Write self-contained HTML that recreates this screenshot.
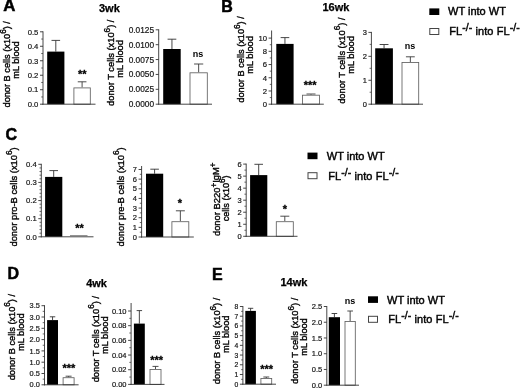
<!DOCTYPE html>
<html><head><meta charset="utf-8"><title>figure</title>
<style>html,body{margin:0;padding:0;background:#fff;}body{width:520px;height:388px;overflow:hidden;font-family:"Liberation Sans", sans-serif;}svg{display:block;will-change:transform;}</style>
</head><body>
<svg width="520" height="388" viewBox="0 0 520 388" font-family='"Liberation Sans", sans-serif' shape-rendering="auto">
<rect width="520" height="388" fill="#fff"/>
<text x="3.30" y="10.90" font-size="16.8" text-anchor="start" font-weight="bold" fill="#000" stroke="#000" stroke-width="0.5">A</text>
<text x="221.20" y="12.10" font-size="16" text-anchor="start" font-weight="bold" fill="#000" stroke="#000" stroke-width="0.5">B</text>
<text x="5.60" y="140.00" font-size="16" text-anchor="start" font-weight="bold" fill="#000" stroke="#000" stroke-width="0.5">C</text>
<text x="7.40" y="278.70" font-size="16" text-anchor="start" font-weight="bold" fill="#000" stroke="#000" stroke-width="0.5">D</text>
<text x="212.00" y="279.80" font-size="16" text-anchor="start" font-weight="bold" fill="#000" stroke="#000" stroke-width="0.5">E</text>
<text x="99.00" y="12.10" font-size="11" text-anchor="start" font-weight="bold" fill="#000" stroke="#000" stroke-width="0.25">3wk</text>
<text x="322.50" y="11.20" font-size="11" text-anchor="start" font-weight="bold" fill="#000" stroke="#000" stroke-width="0.25">16wk</text>
<text x="86.20" y="286.80" font-size="11" text-anchor="start" font-weight="bold" fill="#000" stroke="#000" stroke-width="0.25">4wk</text>
<text x="280.50" y="285.50" font-size="11" text-anchor="start" font-weight="bold" fill="#000" stroke="#000" stroke-width="0.25">14wk</text>
<line x1="55.80" y1="51.60" x2="55.80" y2="40.40" stroke="#333" stroke-width="0.9"/>
<line x1="51.50" y1="40.40" x2="60.10" y2="40.40" stroke="#333" stroke-width="0.9"/>
<rect x="47.20" y="51.60" width="17.20" height="52.60" fill="#000"/>
<line x1="82.10" y1="87.40" x2="82.10" y2="81.80" stroke="#3a3a3a" stroke-width="0.9"/>
<line x1="77.75" y1="81.80" x2="86.45" y2="81.80" stroke="#3a3a3a" stroke-width="0.9"/>
<rect x="73.90" y="87.90" width="16.40" height="16.30" fill="#fff" stroke="#606060" stroke-width="0.85"/>
<line x1="43.00" y1="31.30" x2="43.00" y2="104.70" stroke="#333" stroke-width="0.9"/>
<line x1="42.50" y1="104.20" x2="95.50" y2="104.20" stroke="#333" stroke-width="0.9"/>
<line x1="40.00" y1="104.20" x2="43.00" y2="104.20" stroke="#333" stroke-width="0.9"/>
<text x="38.40" y="106.97" font-size="7.7" text-anchor="end" font-weight="normal" fill="#111" stroke="#222" stroke-width="0.2">0.0</text>
<line x1="41.20" y1="96.96" x2="43.00" y2="96.96" stroke="#333" stroke-width="0.7200000000000001"/>
<line x1="40.00" y1="89.72" x2="43.00" y2="89.72" stroke="#333" stroke-width="0.9"/>
<text x="38.40" y="92.49" font-size="7.7" text-anchor="end" font-weight="normal" fill="#111" stroke="#222" stroke-width="0.2">0.1</text>
<line x1="41.20" y1="82.48" x2="43.00" y2="82.48" stroke="#333" stroke-width="0.7200000000000001"/>
<line x1="40.00" y1="75.24" x2="43.00" y2="75.24" stroke="#333" stroke-width="0.9"/>
<text x="38.40" y="78.01" font-size="7.7" text-anchor="end" font-weight="normal" fill="#111" stroke="#222" stroke-width="0.2">0.2</text>
<line x1="41.20" y1="68.00" x2="43.00" y2="68.00" stroke="#333" stroke-width="0.7200000000000001"/>
<line x1="40.00" y1="60.76" x2="43.00" y2="60.76" stroke="#333" stroke-width="0.9"/>
<text x="38.40" y="63.53" font-size="7.7" text-anchor="end" font-weight="normal" fill="#111" stroke="#222" stroke-width="0.2">0.3</text>
<line x1="41.20" y1="53.52" x2="43.00" y2="53.52" stroke="#333" stroke-width="0.7200000000000001"/>
<line x1="40.00" y1="46.28" x2="43.00" y2="46.28" stroke="#333" stroke-width="0.9"/>
<text x="38.40" y="49.05" font-size="7.7" text-anchor="end" font-weight="normal" fill="#111" stroke="#222" stroke-width="0.2">0.4</text>
<line x1="41.20" y1="39.04" x2="43.00" y2="39.04" stroke="#333" stroke-width="0.7200000000000001"/>
<line x1="40.00" y1="31.80" x2="43.00" y2="31.80" stroke="#333" stroke-width="0.9"/>
<text x="38.40" y="34.57" font-size="7.7" text-anchor="end" font-weight="normal" fill="#111" stroke="#222" stroke-width="0.2">0.5</text>
<text x="82.20" y="78.20" font-size="11" text-anchor="middle" font-weight="bold" fill="#000" stroke="#000" stroke-width="0.3">**</text>
<text transform="translate(10.25,64.30) rotate(-90) scale(1,1.05)" font-size="9.22" text-anchor="middle" font-weight="normal" fill="#000" stroke="#000" stroke-width="0.35">donor B cells (x10<tspan font-size="88%" dy="-4.2">6</tspan><tspan dy="4.2">) /</tspan></text>
<text transform="translate(19.15,60.00) rotate(-90) scale(1,1.05)" font-size="9.20" text-anchor="middle" font-weight="normal" fill="#000" stroke="#000" stroke-width="0.35">mL blood</text>
<line x1="171.95" y1="49.00" x2="171.95" y2="39.20" stroke="#333" stroke-width="0.9"/>
<line x1="167.57" y1="39.20" x2="176.32" y2="39.20" stroke="#333" stroke-width="0.9"/>
<rect x="163.20" y="49.00" width="17.50" height="55.20" fill="#000"/>
<line x1="198.65" y1="72.30" x2="198.65" y2="64.00" stroke="#3a3a3a" stroke-width="0.9"/>
<line x1="194.07" y1="64.00" x2="203.23" y2="64.00" stroke="#3a3a3a" stroke-width="0.9"/>
<rect x="190.00" y="72.80" width="17.30" height="31.40" fill="#fff" stroke="#606060" stroke-width="0.85"/>
<line x1="158.70" y1="29.30" x2="158.70" y2="104.70" stroke="#333" stroke-width="0.9"/>
<line x1="158.20" y1="104.20" x2="212.00" y2="104.20" stroke="#333" stroke-width="0.9"/>
<line x1="155.70" y1="104.20" x2="158.70" y2="104.20" stroke="#333" stroke-width="0.9"/>
<text x="154.10" y="107.19" font-size="8.3" text-anchor="end" font-weight="normal" fill="#111" stroke="#222" stroke-width="0.2">0.0000</text>
<line x1="155.70" y1="89.32" x2="158.70" y2="89.32" stroke="#333" stroke-width="0.9"/>
<text x="154.10" y="92.31" font-size="8.3" text-anchor="end" font-weight="normal" fill="#111" stroke="#222" stroke-width="0.2">0.0025</text>
<line x1="155.70" y1="74.44" x2="158.70" y2="74.44" stroke="#333" stroke-width="0.9"/>
<text x="154.10" y="77.43" font-size="8.3" text-anchor="end" font-weight="normal" fill="#111" stroke="#222" stroke-width="0.2">0.0050</text>
<line x1="155.70" y1="59.56" x2="158.70" y2="59.56" stroke="#333" stroke-width="0.9"/>
<text x="154.10" y="62.55" font-size="8.3" text-anchor="end" font-weight="normal" fill="#111" stroke="#222" stroke-width="0.2">0.0075</text>
<line x1="155.70" y1="44.68" x2="158.70" y2="44.68" stroke="#333" stroke-width="0.9"/>
<text x="154.10" y="47.67" font-size="8.3" text-anchor="end" font-weight="normal" fill="#111" stroke="#222" stroke-width="0.2">0.0100</text>
<line x1="155.70" y1="29.80" x2="158.70" y2="29.80" stroke="#333" stroke-width="0.9"/>
<text x="154.10" y="32.79" font-size="8.3" text-anchor="end" font-weight="normal" fill="#111" stroke="#222" stroke-width="0.2">0.0125</text>
<text x="197.90" y="56.90" font-size="9.0" text-anchor="middle" font-weight="bold" fill="#000" >ns</text>
<text transform="translate(114.35,62.75) rotate(-90) scale(1,1.05)" font-size="9.31" text-anchor="middle" font-weight="normal" fill="#000" stroke="#000" stroke-width="0.35">donor T cells (x10<tspan font-size="88%" dy="-4.2">6</tspan><tspan dy="4.2">) /</tspan></text>
<text transform="translate(123.15,58.90) rotate(-90) scale(1,1.05)" font-size="9.20" text-anchor="middle" font-weight="normal" fill="#000" stroke="#000" stroke-width="0.35">mL blood</text>
<line x1="284.95" y1="43.90" x2="284.95" y2="37.60" stroke="#333" stroke-width="0.9"/>
<line x1="280.63" y1="37.60" x2="289.28" y2="37.60" stroke="#333" stroke-width="0.9"/>
<rect x="276.30" y="43.90" width="17.30" height="60.30" fill="#000"/>
<line x1="311.00" y1="94.70" x2="311.00" y2="94.00" stroke="#3a3a3a" stroke-width="0.9"/>
<line x1="306.50" y1="94.00" x2="315.50" y2="94.00" stroke="#3a3a3a" stroke-width="0.9"/>
<rect x="302.50" y="95.20" width="17.00" height="9.00" fill="#fff" stroke="#606060" stroke-width="0.85"/>
<line x1="271.60" y1="30.50" x2="271.60" y2="104.70" stroke="#333" stroke-width="0.9"/>
<line x1="271.10" y1="104.20" x2="323.80" y2="104.20" stroke="#333" stroke-width="0.9"/>
<line x1="268.60" y1="104.20" x2="271.60" y2="104.20" stroke="#333" stroke-width="0.9"/>
<text x="267.00" y="106.97" font-size="7.7" text-anchor="end" font-weight="normal" fill="#111" stroke="#222" stroke-width="0.2">0</text>
<line x1="269.80" y1="97.59" x2="271.60" y2="97.59" stroke="#333" stroke-width="0.7200000000000001"/>
<line x1="268.60" y1="90.98" x2="271.60" y2="90.98" stroke="#333" stroke-width="0.9"/>
<text x="267.00" y="93.75" font-size="7.7" text-anchor="end" font-weight="normal" fill="#111" stroke="#222" stroke-width="0.2">2</text>
<line x1="269.80" y1="84.37" x2="271.60" y2="84.37" stroke="#333" stroke-width="0.7200000000000001"/>
<line x1="268.60" y1="77.76" x2="271.60" y2="77.76" stroke="#333" stroke-width="0.9"/>
<text x="267.00" y="80.53" font-size="7.7" text-anchor="end" font-weight="normal" fill="#111" stroke="#222" stroke-width="0.2">4</text>
<line x1="269.80" y1="71.15" x2="271.60" y2="71.15" stroke="#333" stroke-width="0.7200000000000001"/>
<line x1="268.60" y1="64.54" x2="271.60" y2="64.54" stroke="#333" stroke-width="0.9"/>
<text x="267.00" y="67.31" font-size="7.7" text-anchor="end" font-weight="normal" fill="#111" stroke="#222" stroke-width="0.2">6</text>
<line x1="269.80" y1="57.93" x2="271.60" y2="57.93" stroke="#333" stroke-width="0.7200000000000001"/>
<line x1="268.60" y1="51.32" x2="271.60" y2="51.32" stroke="#333" stroke-width="0.9"/>
<text x="267.00" y="54.09" font-size="7.7" text-anchor="end" font-weight="normal" fill="#111" stroke="#222" stroke-width="0.2">8</text>
<line x1="269.80" y1="44.71" x2="271.60" y2="44.71" stroke="#333" stroke-width="0.7200000000000001"/>
<line x1="268.60" y1="38.10" x2="271.60" y2="38.10" stroke="#333" stroke-width="0.9"/>
<text x="267.00" y="40.87" font-size="7.7" text-anchor="end" font-weight="normal" fill="#111" stroke="#222" stroke-width="0.2">10</text>
<text x="310.20" y="89.30" font-size="11" text-anchor="middle" font-weight="bold" fill="#000" stroke="#000" stroke-width="0.3">***</text>
<text transform="translate(243.95,59.45) rotate(-90) scale(1,1.05)" font-size="9.22" text-anchor="middle" font-weight="normal" fill="#000" stroke="#000" stroke-width="0.35">donor B cells (x10<tspan font-size="88%" dy="-4.2">6</tspan><tspan dy="4.2">) /</tspan></text>
<text transform="translate(253.25,54.90) rotate(-90) scale(1,1.05)" font-size="9.20" text-anchor="middle" font-weight="normal" fill="#000" stroke="#000" stroke-width="0.35">mL blood</text>
<line x1="384.05" y1="48.30" x2="384.05" y2="44.50" stroke="#333" stroke-width="0.9"/>
<line x1="379.62" y1="44.50" x2="388.47" y2="44.50" stroke="#333" stroke-width="0.9"/>
<rect x="375.20" y="48.30" width="17.70" height="55.90" fill="#000"/>
<line x1="410.35" y1="62.00" x2="410.35" y2="56.80" stroke="#3a3a3a" stroke-width="0.9"/>
<line x1="405.93" y1="56.80" x2="414.78" y2="56.80" stroke="#3a3a3a" stroke-width="0.9"/>
<rect x="402.00" y="62.50" width="16.70" height="41.70" fill="#fff" stroke="#606060" stroke-width="0.85"/>
<line x1="371.40" y1="31.90" x2="371.40" y2="104.70" stroke="#333" stroke-width="0.9"/>
<line x1="370.90" y1="104.20" x2="423.00" y2="104.20" stroke="#333" stroke-width="0.9"/>
<line x1="368.40" y1="104.20" x2="371.40" y2="104.20" stroke="#333" stroke-width="0.9"/>
<text x="366.80" y="106.90" font-size="7.5" text-anchor="end" font-weight="normal" fill="#111" stroke="#222" stroke-width="0.2">0</text>
<line x1="369.60" y1="92.23" x2="371.40" y2="92.23" stroke="#333" stroke-width="0.7200000000000001"/>
<line x1="368.40" y1="80.27" x2="371.40" y2="80.27" stroke="#333" stroke-width="0.9"/>
<text x="366.80" y="82.97" font-size="7.5" text-anchor="end" font-weight="normal" fill="#111" stroke="#222" stroke-width="0.2">1</text>
<line x1="369.60" y1="68.30" x2="371.40" y2="68.30" stroke="#333" stroke-width="0.7200000000000001"/>
<line x1="368.40" y1="56.33" x2="371.40" y2="56.33" stroke="#333" stroke-width="0.9"/>
<text x="366.80" y="59.03" font-size="7.5" text-anchor="end" font-weight="normal" fill="#111" stroke="#222" stroke-width="0.2">2</text>
<line x1="369.60" y1="44.37" x2="371.40" y2="44.37" stroke="#333" stroke-width="0.7200000000000001"/>
<line x1="368.40" y1="32.40" x2="371.40" y2="32.40" stroke="#333" stroke-width="0.9"/>
<text x="366.80" y="35.10" font-size="7.5" text-anchor="end" font-weight="normal" fill="#111" stroke="#222" stroke-width="0.2">3</text>
<text x="410.00" y="48.80" font-size="9.0" text-anchor="middle" font-weight="bold" fill="#000" >ns</text>
<text transform="translate(344.75,60.65) rotate(-90) scale(1,1.05)" font-size="9.31" text-anchor="middle" font-weight="normal" fill="#000" stroke="#000" stroke-width="0.35">donor T cells (x10<tspan font-size="88%" dy="-4.2">6</tspan><tspan dy="4.2">) /</tspan></text>
<text transform="translate(354.15,54.90) rotate(-90) scale(1,1.05)" font-size="9.20" text-anchor="middle" font-weight="normal" fill="#000" stroke="#000" stroke-width="0.35">mL blood</text>
<rect x="429.30" y="8.40" width="10" height="6.6" fill="#000"/>
<rect x="429.80" y="28.50" width="9" height="6" fill="#fff" stroke="#444" stroke-width="1"/>
<text x="448.00" y="15.40" font-size="11" text-anchor="start" font-weight="normal" fill="#000" stroke="#000" stroke-width="0.42">WT into WT</text>
<text x="449.20" y="34.50" font-size="11" text-anchor="start" font-weight="normal" fill="#000" textLength="70.5" lengthAdjust="spacing" stroke="#000" stroke-width="0.42">FL<tspan font-size="10.5" dy="-4">-/-</tspan><tspan dy="4"> into FL</tspan><tspan font-size="10.5" dy="-4">-/-</tspan></text>
<line x1="53.70" y1="176.90" x2="53.70" y2="170.60" stroke="#333" stroke-width="0.9"/>
<line x1="49.40" y1="170.60" x2="58.00" y2="170.60" stroke="#333" stroke-width="0.9"/>
<rect x="45.10" y="176.90" width="17.20" height="59.90" fill="#000"/>
<line x1="70.00" y1="235.60" x2="87.50" y2="235.60" stroke="#888" stroke-width="1"/>
<line x1="41.30" y1="163.80" x2="41.30" y2="237.30" stroke="#333" stroke-width="0.9"/>
<line x1="40.80" y1="236.80" x2="93.50" y2="236.80" stroke="#333" stroke-width="0.9"/>
<line x1="38.30" y1="236.80" x2="41.30" y2="236.80" stroke="#333" stroke-width="0.9"/>
<text x="36.70" y="239.57" font-size="7.7" text-anchor="end" font-weight="normal" fill="#111" stroke="#222" stroke-width="0.2">0.0</text>
<line x1="39.50" y1="233.18" x2="41.30" y2="233.18" stroke="#333" stroke-width="0.7200000000000001"/>
<line x1="39.50" y1="229.55" x2="41.30" y2="229.55" stroke="#333" stroke-width="0.7200000000000001"/>
<line x1="39.50" y1="225.93" x2="41.30" y2="225.93" stroke="#333" stroke-width="0.7200000000000001"/>
<line x1="39.50" y1="222.30" x2="41.30" y2="222.30" stroke="#333" stroke-width="0.7200000000000001"/>
<line x1="38.30" y1="218.68" x2="41.30" y2="218.68" stroke="#333" stroke-width="0.9"/>
<text x="36.70" y="221.45" font-size="7.7" text-anchor="end" font-weight="normal" fill="#111" stroke="#222" stroke-width="0.2">0.1</text>
<line x1="39.50" y1="215.05" x2="41.30" y2="215.05" stroke="#333" stroke-width="0.7200000000000001"/>
<line x1="39.50" y1="211.43" x2="41.30" y2="211.43" stroke="#333" stroke-width="0.7200000000000001"/>
<line x1="39.50" y1="207.80" x2="41.30" y2="207.80" stroke="#333" stroke-width="0.7200000000000001"/>
<line x1="39.50" y1="204.18" x2="41.30" y2="204.18" stroke="#333" stroke-width="0.7200000000000001"/>
<line x1="38.30" y1="200.55" x2="41.30" y2="200.55" stroke="#333" stroke-width="0.9"/>
<text x="36.70" y="203.32" font-size="7.7" text-anchor="end" font-weight="normal" fill="#111" stroke="#222" stroke-width="0.2">0.2</text>
<line x1="39.50" y1="196.93" x2="41.30" y2="196.93" stroke="#333" stroke-width="0.7200000000000001"/>
<line x1="39.50" y1="193.30" x2="41.30" y2="193.30" stroke="#333" stroke-width="0.7200000000000001"/>
<line x1="39.50" y1="189.68" x2="41.30" y2="189.68" stroke="#333" stroke-width="0.7200000000000001"/>
<line x1="39.50" y1="186.05" x2="41.30" y2="186.05" stroke="#333" stroke-width="0.7200000000000001"/>
<line x1="38.30" y1="182.43" x2="41.30" y2="182.43" stroke="#333" stroke-width="0.9"/>
<text x="36.70" y="185.20" font-size="7.7" text-anchor="end" font-weight="normal" fill="#111" stroke="#222" stroke-width="0.2">0.3</text>
<line x1="39.50" y1="178.80" x2="41.30" y2="178.80" stroke="#333" stroke-width="0.7200000000000001"/>
<line x1="39.50" y1="175.18" x2="41.30" y2="175.18" stroke="#333" stroke-width="0.7200000000000001"/>
<line x1="39.50" y1="171.55" x2="41.30" y2="171.55" stroke="#333" stroke-width="0.7200000000000001"/>
<line x1="39.50" y1="167.93" x2="41.30" y2="167.93" stroke="#333" stroke-width="0.7200000000000001"/>
<line x1="38.30" y1="164.30" x2="41.30" y2="164.30" stroke="#333" stroke-width="0.9"/>
<text x="36.70" y="167.07" font-size="7.7" text-anchor="end" font-weight="normal" fill="#111" stroke="#222" stroke-width="0.2">0.4</text>
<text x="79.50" y="231.70" font-size="11" text-anchor="middle" font-weight="bold" fill="#000" stroke="#000" stroke-width="0.3">**</text>
<text transform="translate(16.65,196.95) rotate(-90) scale(1,1.05)" font-size="9.37" text-anchor="middle" font-weight="normal" fill="#000" stroke="#000" stroke-width="0.35">donor pro-B cells (x10<tspan font-size="88%" dy="-4.2">6</tspan><tspan dy="4.2">)</tspan></text>
<line x1="154.60" y1="173.70" x2="154.60" y2="169.20" stroke="#333" stroke-width="0.9"/>
<line x1="150.30" y1="169.20" x2="158.90" y2="169.20" stroke="#333" stroke-width="0.9"/>
<rect x="146.00" y="173.70" width="17.20" height="63.30" fill="#000"/>
<line x1="180.35" y1="221.20" x2="180.35" y2="210.80" stroke="#3a3a3a" stroke-width="0.9"/>
<line x1="175.88" y1="210.80" x2="184.83" y2="210.80" stroke="#3a3a3a" stroke-width="0.9"/>
<rect x="171.90" y="221.70" width="16.90" height="15.30" fill="#fff" stroke="#606060" stroke-width="0.85"/>
<line x1="141.60" y1="166.00" x2="141.60" y2="237.50" stroke="#333" stroke-width="0.9"/>
<line x1="141.10" y1="237.00" x2="193.80" y2="237.00" stroke="#333" stroke-width="0.9"/>
<line x1="138.60" y1="237.00" x2="141.60" y2="237.00" stroke="#333" stroke-width="0.9"/>
<text x="137.00" y="239.70" font-size="7.5" text-anchor="end" font-weight="normal" fill="#111" stroke="#222" stroke-width="0.2">0</text>
<line x1="139.80" y1="232.18" x2="141.60" y2="232.18" stroke="#333" stroke-width="0.7200000000000001"/>
<line x1="138.60" y1="227.36" x2="141.60" y2="227.36" stroke="#333" stroke-width="0.9"/>
<text x="137.00" y="230.06" font-size="7.5" text-anchor="end" font-weight="normal" fill="#111" stroke="#222" stroke-width="0.2">1</text>
<line x1="139.80" y1="222.54" x2="141.60" y2="222.54" stroke="#333" stroke-width="0.7200000000000001"/>
<line x1="138.60" y1="217.71" x2="141.60" y2="217.71" stroke="#333" stroke-width="0.9"/>
<text x="137.00" y="220.41" font-size="7.5" text-anchor="end" font-weight="normal" fill="#111" stroke="#222" stroke-width="0.2">2</text>
<line x1="139.80" y1="212.89" x2="141.60" y2="212.89" stroke="#333" stroke-width="0.7200000000000001"/>
<line x1="138.60" y1="208.07" x2="141.60" y2="208.07" stroke="#333" stroke-width="0.9"/>
<text x="137.00" y="210.77" font-size="7.5" text-anchor="end" font-weight="normal" fill="#111" stroke="#222" stroke-width="0.2">3</text>
<line x1="139.80" y1="203.25" x2="141.60" y2="203.25" stroke="#333" stroke-width="0.7200000000000001"/>
<line x1="138.60" y1="198.43" x2="141.60" y2="198.43" stroke="#333" stroke-width="0.9"/>
<text x="137.00" y="201.13" font-size="7.5" text-anchor="end" font-weight="normal" fill="#111" stroke="#222" stroke-width="0.2">4</text>
<line x1="139.80" y1="193.61" x2="141.60" y2="193.61" stroke="#333" stroke-width="0.7200000000000001"/>
<line x1="138.60" y1="188.79" x2="141.60" y2="188.79" stroke="#333" stroke-width="0.9"/>
<text x="137.00" y="191.49" font-size="7.5" text-anchor="end" font-weight="normal" fill="#111" stroke="#222" stroke-width="0.2">5</text>
<line x1="139.80" y1="183.96" x2="141.60" y2="183.96" stroke="#333" stroke-width="0.7200000000000001"/>
<line x1="138.60" y1="179.14" x2="141.60" y2="179.14" stroke="#333" stroke-width="0.9"/>
<text x="137.00" y="181.84" font-size="7.5" text-anchor="end" font-weight="normal" fill="#111" stroke="#222" stroke-width="0.2">6</text>
<line x1="139.80" y1="174.32" x2="141.60" y2="174.32" stroke="#333" stroke-width="0.7200000000000001"/>
<line x1="138.60" y1="169.50" x2="141.60" y2="169.50" stroke="#333" stroke-width="0.9"/>
<text x="137.00" y="172.20" font-size="7.5" text-anchor="end" font-weight="normal" fill="#111" stroke="#222" stroke-width="0.2">7</text>
<text x="180.00" y="206.70" font-size="11" text-anchor="middle" font-weight="bold" fill="#000" stroke="#000" stroke-width="0.3">*</text>
<text transform="translate(123.85,196.95) rotate(-90) scale(1,1.05)" font-size="9.37" text-anchor="middle" font-weight="normal" fill="#000" stroke="#000" stroke-width="0.35">donor pre-B cells (x10<tspan font-size="88%" dy="-4.2">6</tspan><tspan dy="4.2">)</tspan></text>
<line x1="258.70" y1="175.10" x2="258.70" y2="164.30" stroke="#333" stroke-width="0.9"/>
<line x1="254.40" y1="164.30" x2="263.00" y2="164.30" stroke="#333" stroke-width="0.9"/>
<rect x="250.10" y="175.10" width="17.20" height="61.20" fill="#000"/>
<line x1="284.80" y1="221.20" x2="284.80" y2="216.20" stroke="#3a3a3a" stroke-width="0.9"/>
<line x1="280.30" y1="216.20" x2="289.30" y2="216.20" stroke="#3a3a3a" stroke-width="0.9"/>
<rect x="276.30" y="221.70" width="17.00" height="14.60" fill="#fff" stroke="#606060" stroke-width="0.85"/>
<line x1="246.20" y1="163.60" x2="246.20" y2="236.80" stroke="#333" stroke-width="0.9"/>
<line x1="245.70" y1="236.30" x2="297.50" y2="236.30" stroke="#333" stroke-width="0.9"/>
<line x1="243.20" y1="236.30" x2="246.20" y2="236.30" stroke="#333" stroke-width="0.9"/>
<text x="241.60" y="239.00" font-size="7.5" text-anchor="end" font-weight="normal" fill="#111" stroke="#222" stroke-width="0.2">0</text>
<line x1="244.40" y1="230.28" x2="246.20" y2="230.28" stroke="#333" stroke-width="0.7200000000000001"/>
<line x1="243.20" y1="224.27" x2="246.20" y2="224.27" stroke="#333" stroke-width="0.9"/>
<text x="241.60" y="226.97" font-size="7.5" text-anchor="end" font-weight="normal" fill="#111" stroke="#222" stroke-width="0.2">1</text>
<line x1="244.40" y1="218.25" x2="246.20" y2="218.25" stroke="#333" stroke-width="0.7200000000000001"/>
<line x1="243.20" y1="212.23" x2="246.20" y2="212.23" stroke="#333" stroke-width="0.9"/>
<text x="241.60" y="214.93" font-size="7.5" text-anchor="end" font-weight="normal" fill="#111" stroke="#222" stroke-width="0.2">2</text>
<line x1="244.40" y1="206.22" x2="246.20" y2="206.22" stroke="#333" stroke-width="0.7200000000000001"/>
<line x1="243.20" y1="200.20" x2="246.20" y2="200.20" stroke="#333" stroke-width="0.9"/>
<text x="241.60" y="202.90" font-size="7.5" text-anchor="end" font-weight="normal" fill="#111" stroke="#222" stroke-width="0.2">3</text>
<line x1="244.40" y1="194.18" x2="246.20" y2="194.18" stroke="#333" stroke-width="0.7200000000000001"/>
<line x1="243.20" y1="188.17" x2="246.20" y2="188.17" stroke="#333" stroke-width="0.9"/>
<text x="241.60" y="190.87" font-size="7.5" text-anchor="end" font-weight="normal" fill="#111" stroke="#222" stroke-width="0.2">4</text>
<line x1="244.40" y1="182.15" x2="246.20" y2="182.15" stroke="#333" stroke-width="0.7200000000000001"/>
<line x1="243.20" y1="176.13" x2="246.20" y2="176.13" stroke="#333" stroke-width="0.9"/>
<text x="241.60" y="178.83" font-size="7.5" text-anchor="end" font-weight="normal" fill="#111" stroke="#222" stroke-width="0.2">5</text>
<line x1="244.40" y1="170.12" x2="246.20" y2="170.12" stroke="#333" stroke-width="0.7200000000000001"/>
<line x1="243.20" y1="164.10" x2="246.20" y2="164.10" stroke="#333" stroke-width="0.9"/>
<text x="241.60" y="166.80" font-size="7.5" text-anchor="end" font-weight="normal" fill="#111" stroke="#222" stroke-width="0.2">6</text>
<text x="285.00" y="213.00" font-size="11" text-anchor="middle" font-weight="bold" fill="#000" stroke="#000" stroke-width="0.3">*</text>
<text transform="translate(219.75,199.30) rotate(-90) scale(1,1.05)" font-size="9.41" text-anchor="middle" font-weight="normal" fill="#000" stroke="#000" stroke-width="0.35">donor B220<tspan font-size="85%" dy="-2.7">+</tspan><tspan dy="1.5">IgM</tspan><tspan font-size="85%" dy="-2.7">+</tspan></text>
<text transform="translate(229.35,198.40) rotate(-90) scale(1,1.05)" font-size="9.10" text-anchor="middle" font-weight="normal" fill="#000" stroke="#000" stroke-width="0.35">cells (x10<tspan font-size="88%" dy="-4.2">6</tspan><tspan dy="4.2">)</tspan></text>
<rect x="307.50" y="152.60" width="10" height="6.6" fill="#000"/>
<rect x="308.00" y="172.70" width="9" height="6" fill="#fff" stroke="#444" stroke-width="1"/>
<text x="326.80" y="160.00" font-size="11" text-anchor="start" font-weight="normal" fill="#000" stroke="#000" stroke-width="0.42">WT into WT</text>
<text x="328.20" y="179.60" font-size="11" text-anchor="start" font-weight="normal" fill="#000" textLength="70.5" lengthAdjust="spacing" stroke="#000" stroke-width="0.42">FL<tspan font-size="10.5" dy="-4">-/-</tspan><tspan dy="4"> into FL</tspan><tspan font-size="10.5" dy="-4">-/-</tspan></text>
<line x1="52.55" y1="320.10" x2="52.55" y2="316.80" stroke="#333" stroke-width="0.9"/>
<line x1="49.82" y1="316.80" x2="55.27" y2="316.80" stroke="#333" stroke-width="0.9"/>
<rect x="47.10" y="320.10" width="10.90" height="64.70" fill="#000"/>
<line x1="68.60" y1="377.20" x2="68.60" y2="376.20" stroke="#3a3a3a" stroke-width="0.9"/>
<line x1="65.60" y1="376.20" x2="71.60" y2="376.20" stroke="#3a3a3a" stroke-width="0.9"/>
<rect x="63.10" y="377.70" width="11.00" height="7.10" fill="#fff" stroke="#606060" stroke-width="0.85"/>
<line x1="44.50" y1="305.20" x2="44.50" y2="385.30" stroke="#333" stroke-width="0.9"/>
<line x1="44.00" y1="384.80" x2="78.60" y2="384.80" stroke="#333" stroke-width="0.9"/>
<line x1="41.50" y1="384.80" x2="44.50" y2="384.80" stroke="#333" stroke-width="0.9"/>
<text x="39.90" y="387.46" font-size="7.4" text-anchor="end" font-weight="normal" fill="#111" stroke="#222" stroke-width="0.2">0.0</text>
<line x1="42.70" y1="379.15" x2="44.50" y2="379.15" stroke="#333" stroke-width="0.7200000000000001"/>
<line x1="41.50" y1="373.50" x2="44.50" y2="373.50" stroke="#333" stroke-width="0.9"/>
<text x="39.90" y="376.16" font-size="7.4" text-anchor="end" font-weight="normal" fill="#111" stroke="#222" stroke-width="0.2">0.5</text>
<line x1="42.70" y1="367.85" x2="44.50" y2="367.85" stroke="#333" stroke-width="0.7200000000000001"/>
<line x1="41.50" y1="362.20" x2="44.50" y2="362.20" stroke="#333" stroke-width="0.9"/>
<text x="39.90" y="364.86" font-size="7.4" text-anchor="end" font-weight="normal" fill="#111" stroke="#222" stroke-width="0.2">1.0</text>
<line x1="42.70" y1="356.55" x2="44.50" y2="356.55" stroke="#333" stroke-width="0.7200000000000001"/>
<line x1="41.50" y1="350.90" x2="44.50" y2="350.90" stroke="#333" stroke-width="0.9"/>
<text x="39.90" y="353.56" font-size="7.4" text-anchor="end" font-weight="normal" fill="#111" stroke="#222" stroke-width="0.2">1.5</text>
<line x1="42.70" y1="345.25" x2="44.50" y2="345.25" stroke="#333" stroke-width="0.7200000000000001"/>
<line x1="41.50" y1="339.60" x2="44.50" y2="339.60" stroke="#333" stroke-width="0.9"/>
<text x="39.90" y="342.26" font-size="7.4" text-anchor="end" font-weight="normal" fill="#111" stroke="#222" stroke-width="0.2">2.0</text>
<line x1="42.70" y1="333.95" x2="44.50" y2="333.95" stroke="#333" stroke-width="0.7200000000000001"/>
<line x1="41.50" y1="328.30" x2="44.50" y2="328.30" stroke="#333" stroke-width="0.9"/>
<text x="39.90" y="330.96" font-size="7.4" text-anchor="end" font-weight="normal" fill="#111" stroke="#222" stroke-width="0.2">2.5</text>
<line x1="42.70" y1="322.65" x2="44.50" y2="322.65" stroke="#333" stroke-width="0.7200000000000001"/>
<line x1="41.50" y1="317.00" x2="44.50" y2="317.00" stroke="#333" stroke-width="0.9"/>
<text x="39.90" y="319.66" font-size="7.4" text-anchor="end" font-weight="normal" fill="#111" stroke="#222" stroke-width="0.2">3.0</text>
<line x1="42.70" y1="311.35" x2="44.50" y2="311.35" stroke="#333" stroke-width="0.7200000000000001"/>
<line x1="41.50" y1="305.70" x2="44.50" y2="305.70" stroke="#333" stroke-width="0.9"/>
<text x="39.90" y="308.36" font-size="7.4" text-anchor="end" font-weight="normal" fill="#111" stroke="#222" stroke-width="0.2">3.5</text>
<text x="68.80" y="372.20" font-size="11" text-anchor="middle" font-weight="bold" fill="#000" stroke="#000" stroke-width="0.3">***</text>
<text transform="translate(14.65,337.15) rotate(-90) scale(1,1.05)" font-size="9.22" text-anchor="middle" font-weight="normal" fill="#000" stroke="#000" stroke-width="0.35">donor B cells (x10<tspan font-size="88%" dy="-4.2">6</tspan><tspan dy="4.2">) /</tspan></text>
<text transform="translate(24.15,332.20) rotate(-90) scale(1,1.05)" font-size="9.20" text-anchor="middle" font-weight="normal" fill="#000" stroke="#000" stroke-width="0.35">mL blood</text>
<line x1="139.35" y1="323.60" x2="139.35" y2="310.60" stroke="#333" stroke-width="0.9"/>
<line x1="136.63" y1="310.60" x2="142.08" y2="310.60" stroke="#333" stroke-width="0.9"/>
<rect x="133.90" y="323.60" width="10.90" height="60.80" fill="#000"/>
<line x1="155.50" y1="369.00" x2="155.50" y2="366.40" stroke="#3a3a3a" stroke-width="0.9"/>
<line x1="152.50" y1="366.40" x2="158.50" y2="366.40" stroke="#3a3a3a" stroke-width="0.9"/>
<rect x="150.00" y="369.50" width="11.00" height="14.90" fill="#fff" stroke="#606060" stroke-width="0.85"/>
<line x1="131.10" y1="303.00" x2="131.10" y2="384.90" stroke="#333" stroke-width="0.9"/>
<line x1="130.60" y1="384.40" x2="164.50" y2="384.40" stroke="#333" stroke-width="0.9"/>
<line x1="128.10" y1="384.40" x2="131.10" y2="384.40" stroke="#333" stroke-width="0.9"/>
<text x="126.50" y="387.10" font-size="7.5" text-anchor="end" font-weight="normal" fill="#111" stroke="#222" stroke-width="0.2">0.00</text>
<line x1="129.30" y1="377.06" x2="131.10" y2="377.06" stroke="#333" stroke-width="0.7200000000000001"/>
<line x1="128.10" y1="369.72" x2="131.10" y2="369.72" stroke="#333" stroke-width="0.9"/>
<text x="126.50" y="372.42" font-size="7.5" text-anchor="end" font-weight="normal" fill="#111" stroke="#222" stroke-width="0.2">0.02</text>
<line x1="129.30" y1="362.38" x2="131.10" y2="362.38" stroke="#333" stroke-width="0.7200000000000001"/>
<line x1="128.10" y1="355.04" x2="131.10" y2="355.04" stroke="#333" stroke-width="0.9"/>
<text x="126.50" y="357.74" font-size="7.5" text-anchor="end" font-weight="normal" fill="#111" stroke="#222" stroke-width="0.2">0.04</text>
<line x1="129.30" y1="347.70" x2="131.10" y2="347.70" stroke="#333" stroke-width="0.7200000000000001"/>
<line x1="128.10" y1="340.36" x2="131.10" y2="340.36" stroke="#333" stroke-width="0.9"/>
<text x="126.50" y="343.06" font-size="7.5" text-anchor="end" font-weight="normal" fill="#111" stroke="#222" stroke-width="0.2">0.06</text>
<line x1="129.30" y1="333.02" x2="131.10" y2="333.02" stroke="#333" stroke-width="0.7200000000000001"/>
<line x1="128.10" y1="325.68" x2="131.10" y2="325.68" stroke="#333" stroke-width="0.9"/>
<text x="126.50" y="328.38" font-size="7.5" text-anchor="end" font-weight="normal" fill="#111" stroke="#222" stroke-width="0.2">0.08</text>
<line x1="129.30" y1="318.34" x2="131.10" y2="318.34" stroke="#333" stroke-width="0.7200000000000001"/>
<line x1="128.10" y1="311.00" x2="131.10" y2="311.00" stroke="#333" stroke-width="0.9"/>
<text x="126.50" y="313.70" font-size="7.5" text-anchor="end" font-weight="normal" fill="#111" stroke="#222" stroke-width="0.2">0.10</text>
<text x="156.70" y="364.00" font-size="11" text-anchor="middle" font-weight="bold" fill="#000" stroke="#000" stroke-width="0.3">***</text>
<text transform="translate(98.65,339.15) rotate(-90) scale(1,1.05)" font-size="9.31" text-anchor="middle" font-weight="normal" fill="#000" stroke="#000" stroke-width="0.35">donor T cells (x10<tspan font-size="88%" dy="-4.2">6</tspan><tspan dy="4.2">) /</tspan></text>
<text transform="translate(108.15,335.20) rotate(-90) scale(1,1.05)" font-size="9.20" text-anchor="middle" font-weight="normal" fill="#000" stroke="#000" stroke-width="0.35">mL blood</text>
<line x1="250.60" y1="310.90" x2="250.60" y2="308.30" stroke="#333" stroke-width="0.9"/>
<line x1="247.95" y1="308.30" x2="253.25" y2="308.30" stroke="#333" stroke-width="0.9"/>
<rect x="245.30" y="310.90" width="10.60" height="73.30" fill="#000"/>
<line x1="266.30" y1="378.00" x2="266.30" y2="377.00" stroke="#3a3a3a" stroke-width="0.9"/>
<line x1="263.35" y1="377.00" x2="269.25" y2="377.00" stroke="#3a3a3a" stroke-width="0.9"/>
<rect x="260.90" y="378.50" width="10.80" height="5.70" fill="#fff" stroke="#606060" stroke-width="0.85"/>
<line x1="242.90" y1="306.00" x2="242.90" y2="384.70" stroke="#333" stroke-width="0.9"/>
<line x1="242.40" y1="384.20" x2="276.00" y2="384.20" stroke="#333" stroke-width="0.9"/>
<line x1="239.90" y1="384.20" x2="242.90" y2="384.20" stroke="#333" stroke-width="0.9"/>
<text x="238.30" y="386.65" font-size="6.8" text-anchor="end" font-weight="normal" fill="#111" stroke="#222" stroke-width="0.2">0</text>
<line x1="241.10" y1="379.34" x2="242.90" y2="379.34" stroke="#333" stroke-width="0.7200000000000001"/>
<line x1="239.90" y1="374.49" x2="242.90" y2="374.49" stroke="#333" stroke-width="0.9"/>
<text x="238.30" y="376.94" font-size="6.8" text-anchor="end" font-weight="normal" fill="#111" stroke="#222" stroke-width="0.2">1</text>
<line x1="241.10" y1="369.63" x2="242.90" y2="369.63" stroke="#333" stroke-width="0.7200000000000001"/>
<line x1="239.90" y1="364.77" x2="242.90" y2="364.77" stroke="#333" stroke-width="0.9"/>
<text x="238.30" y="367.22" font-size="6.8" text-anchor="end" font-weight="normal" fill="#111" stroke="#222" stroke-width="0.2">2</text>
<line x1="241.10" y1="359.92" x2="242.90" y2="359.92" stroke="#333" stroke-width="0.7200000000000001"/>
<line x1="239.90" y1="355.06" x2="242.90" y2="355.06" stroke="#333" stroke-width="0.9"/>
<text x="238.30" y="357.51" font-size="6.8" text-anchor="end" font-weight="normal" fill="#111" stroke="#222" stroke-width="0.2">3</text>
<line x1="241.10" y1="350.21" x2="242.90" y2="350.21" stroke="#333" stroke-width="0.7200000000000001"/>
<line x1="239.90" y1="345.35" x2="242.90" y2="345.35" stroke="#333" stroke-width="0.9"/>
<text x="238.30" y="347.80" font-size="6.8" text-anchor="end" font-weight="normal" fill="#111" stroke="#222" stroke-width="0.2">4</text>
<line x1="241.10" y1="340.49" x2="242.90" y2="340.49" stroke="#333" stroke-width="0.7200000000000001"/>
<line x1="239.90" y1="335.64" x2="242.90" y2="335.64" stroke="#333" stroke-width="0.9"/>
<text x="238.30" y="338.09" font-size="6.8" text-anchor="end" font-weight="normal" fill="#111" stroke="#222" stroke-width="0.2">5</text>
<line x1="241.10" y1="330.78" x2="242.90" y2="330.78" stroke="#333" stroke-width="0.7200000000000001"/>
<line x1="239.90" y1="325.93" x2="242.90" y2="325.93" stroke="#333" stroke-width="0.9"/>
<text x="238.30" y="328.37" font-size="6.8" text-anchor="end" font-weight="normal" fill="#111" stroke="#222" stroke-width="0.2">6</text>
<line x1="241.10" y1="321.07" x2="242.90" y2="321.07" stroke="#333" stroke-width="0.7200000000000001"/>
<line x1="239.90" y1="316.21" x2="242.90" y2="316.21" stroke="#333" stroke-width="0.9"/>
<text x="238.30" y="318.66" font-size="6.8" text-anchor="end" font-weight="normal" fill="#111" stroke="#222" stroke-width="0.2">7</text>
<line x1="241.10" y1="311.36" x2="242.90" y2="311.36" stroke="#333" stroke-width="0.7200000000000001"/>
<line x1="239.90" y1="306.50" x2="242.90" y2="306.50" stroke="#333" stroke-width="0.9"/>
<text x="238.30" y="308.95" font-size="6.8" text-anchor="end" font-weight="normal" fill="#111" stroke="#222" stroke-width="0.2">8</text>
<text x="266.60" y="373.20" font-size="11" text-anchor="middle" font-weight="bold" fill="#000" stroke="#000" stroke-width="0.3">***</text>
<text transform="translate(219.95,340.95) rotate(-90) scale(1,1.05)" font-size="9.22" text-anchor="middle" font-weight="normal" fill="#000" stroke="#000" stroke-width="0.35">donor B cells (x10<tspan font-size="88%" dy="-4.2">6</tspan><tspan dy="4.2">) /</tspan></text>
<text transform="translate(229.35,334.30) rotate(-90) scale(1,1.05)" font-size="9.20" text-anchor="middle" font-weight="normal" fill="#000" stroke="#000" stroke-width="0.35">mL blood</text>
<line x1="334.40" y1="317.20" x2="334.40" y2="313.50" stroke="#333" stroke-width="0.9"/>
<line x1="331.60" y1="313.50" x2="337.20" y2="313.50" stroke="#333" stroke-width="0.9"/>
<rect x="328.80" y="317.20" width="11.20" height="68.00" fill="#000"/>
<line x1="350.15" y1="321.00" x2="350.15" y2="311.00" stroke="#3a3a3a" stroke-width="0.9"/>
<line x1="347.32" y1="311.00" x2="352.97" y2="311.00" stroke="#3a3a3a" stroke-width="0.9"/>
<rect x="345.00" y="321.50" width="10.30" height="63.70" fill="#fff" stroke="#606060" stroke-width="0.85"/>
<line x1="326.80" y1="306.00" x2="326.80" y2="385.70" stroke="#333" stroke-width="0.9"/>
<line x1="326.30" y1="385.20" x2="359.00" y2="385.20" stroke="#333" stroke-width="0.9"/>
<line x1="323.80" y1="385.20" x2="326.80" y2="385.20" stroke="#333" stroke-width="0.9"/>
<text x="322.20" y="387.90" font-size="7.5" text-anchor="end" font-weight="normal" fill="#111" stroke="#222" stroke-width="0.2">0.0</text>
<line x1="323.80" y1="369.46" x2="326.80" y2="369.46" stroke="#333" stroke-width="0.9"/>
<text x="322.20" y="372.16" font-size="7.5" text-anchor="end" font-weight="normal" fill="#111" stroke="#222" stroke-width="0.2">0.5</text>
<line x1="323.80" y1="353.72" x2="326.80" y2="353.72" stroke="#333" stroke-width="0.9"/>
<text x="322.20" y="356.42" font-size="7.5" text-anchor="end" font-weight="normal" fill="#111" stroke="#222" stroke-width="0.2">1.0</text>
<line x1="323.80" y1="337.98" x2="326.80" y2="337.98" stroke="#333" stroke-width="0.9"/>
<text x="322.20" y="340.68" font-size="7.5" text-anchor="end" font-weight="normal" fill="#111" stroke="#222" stroke-width="0.2">1.5</text>
<line x1="323.80" y1="322.24" x2="326.80" y2="322.24" stroke="#333" stroke-width="0.9"/>
<text x="322.20" y="324.94" font-size="7.5" text-anchor="end" font-weight="normal" fill="#111" stroke="#222" stroke-width="0.2">2.0</text>
<line x1="323.80" y1="306.50" x2="326.80" y2="306.50" stroke="#333" stroke-width="0.9"/>
<text x="322.20" y="309.20" font-size="7.5" text-anchor="end" font-weight="normal" fill="#111" stroke="#222" stroke-width="0.2">2.5</text>
<text x="350.00" y="303.50" font-size="9.0" text-anchor="middle" font-weight="bold" fill="#000" >ns</text>
<text transform="translate(297.95,340.85) rotate(-90) scale(1,1.05)" font-size="9.31" text-anchor="middle" font-weight="normal" fill="#000" stroke="#000" stroke-width="0.35">donor T cells (x10<tspan font-size="88%" dy="-4.2">6</tspan><tspan dy="4.2">) /</tspan></text>
<text transform="translate(307.35,337.00) rotate(-90) scale(1,1.05)" font-size="9.20" text-anchor="middle" font-weight="normal" fill="#000" stroke="#000" stroke-width="0.35">mL blood</text>
<rect x="368.00" y="296.30" width="10" height="6.6" fill="#000"/>
<rect x="368.50" y="316.30" width="9" height="6" fill="#fff" stroke="#444" stroke-width="1"/>
<text x="387.00" y="303.80" font-size="11" text-anchor="start" font-weight="normal" fill="#000" stroke="#000" stroke-width="0.42">WT into WT</text>
<text x="388.20" y="323.00" font-size="11" text-anchor="start" font-weight="normal" fill="#000" textLength="70.5" lengthAdjust="spacing" stroke="#000" stroke-width="0.42">FL<tspan font-size="10.5" dy="-4">-/-</tspan><tspan dy="4"> into FL</tspan><tspan font-size="10.5" dy="-4">-/-</tspan></text>
</svg>
</body></html>
